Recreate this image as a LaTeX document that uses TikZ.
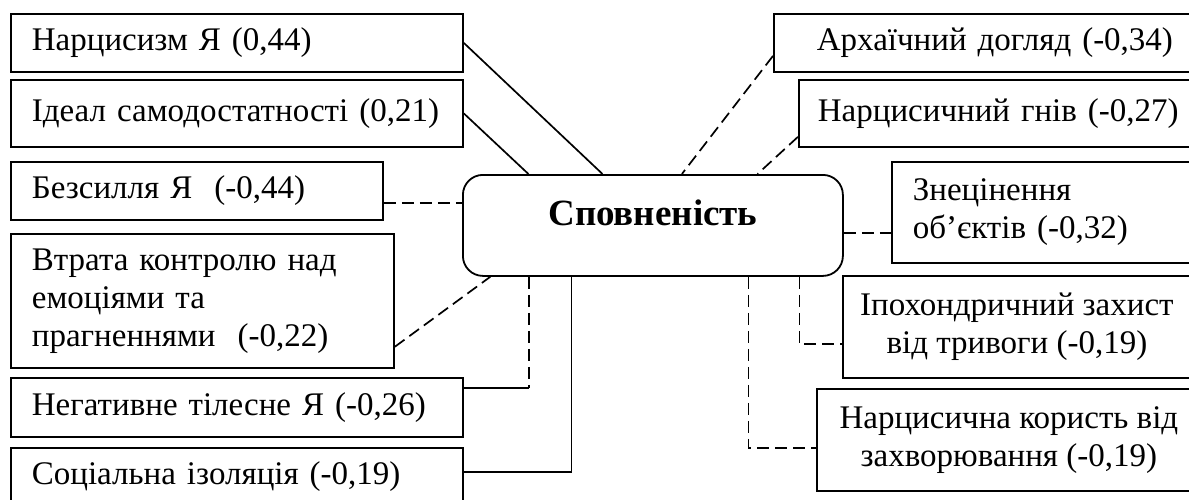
\documentclass[tikz,border=0pt]{standalone}
\usepackage{fontspec}
\setmainfont{Liberation Serif}
\usepackage{tikz}
\usetikzlibrary{calc}

\begin{document}
\begin{tikzpicture}[x=1pt, y=-1pt,
			box/.style={draw, line width=1.8pt, anchor=north west, inner sep=0pt,
				font=\fontsize{33}{38}\selectfont},
			link/.style={line width=1.7pt},
			dashline/.style={dash pattern=on 12pt off 6pt}]
			\useasboundingbox (0,0) rectangle (1189,499);
			\clip (0,0) rectangle (1189,499);
			\node[box, minimum width=452, minimum height=58, text width=410, align=left] (b1) at (10,13) {Нарцисизм Я (0,44)};
			\node[box, minimum width=452, minimum height=67, text width=410, align=left] (b2) at (10,79) {\mbox{Ідеал самодостатності (0,21)}};
			\node[box, minimum width=372, minimum height=58, text width=330, align=left] (b3) at (10,161) {Безсилля Я\ \ (-0,44)};
			\node[box, minimum width=383, minimum height=134, text width=341, align=left] (b4) at (10,233) {Втрата контролю над\\емоціями та\\прагненнями\ \ (-0,22)};
			\node[box, minimum width=452, minimum height=59, text width=410, align=left] (b5) at (10,377) {Негативне тілесне Я (-0,26)};
			\node[box, minimum width=452, minimum height=58, text width=410, align=left] (b6) at (10,447) {Соціальна ізоляція (-0,19)};
			\node[box, rounded corners=20pt, minimum width=380, minimum height=101, text height=26pt, text depth=26pt,
				font=\bfseries\fontsize{37}{44}\selectfont] (c) at (462,174) {Сповненість};
			\node[box, minimum width=448, minimum height=58, text width=362, align=left] (r1) at (773,13) {Архаїчний догляд (-0,34)};
			\node[box, minimum width=420, minimum height=67, text width=382, align=left] (r2) at (798,79) {Нарцисичний гнів (-0,27)};
			\node[box, minimum width=344, minimum height=101, text width=302, align=left] (r3) at (891,161) {Знецінення\\об’єктів (-0,32)};
			\node[box, minimum width=348, minimum height=102, align=center] (r4) at (842,275) {Іпохондричний захист\\від тривоги (-0,19)};
			\node[box, minimum width=384, minimum height=102, align=center] (r5) at (816,388) {Нарцисична користь від\\захворювання (-0,19)};
			\coordinate (t1) at ($(c.north west)!0.368!(c.north east)$);
			\coordinate (t2) at ($(c.north west)!0.174!(c.north east)$);
			\coordinate (t3) at ($(c.north west)!0.576!(c.north east)$);
			\coordinate (t4) at ($(c.north west)!0.774!(c.north east)$);
			\coordinate (s1) at ($(c.south west)!0.074!(c.south east)$);
			\coordinate (s2) at ($(c.south west)!0.176!(c.south east)$);
			\coordinate (s3) at ($(c.south west)!0.287!(c.south east)$);
			\coordinate (s4) at ($(c.south west)!0.75!(c.south east)$);
			\coordinate (s5) at ($(c.south west)!0.884!(c.south east)$);
			\draw[link] (b1.east) -- (t1);
			\draw[link] (b2.east) -- (t2);
			\draw[link, dashline] ([yshift=-12pt]b3.east) -- ([yshift=-12pt]b3.east -| c.west);
			\draw[link, dashline] ([yshift=22pt]b4.south east) -- (s1);
			\draw[link] ([yshift=-11pt]b5.north east) -- ([yshift=-11pt]b5.north east -| s2);
			\draw[link, dashline] (s2) -- ([yshift=-11pt]b5.north east -| s2);
			\draw[link] ([yshift=-25pt]b6.north east) -| (s3);
			\draw[link, dashline] ([yshift=-13pt]r1.west) -- (t3);
			\draw[link, dashline] ([yshift=11pt]r2.south west) -- (t4);
			\draw[link, dashline] ([yshift=-7.5pt]c.east) -- ([yshift=-7.5pt]c.east -| r3.west);
			\draw[link, dashline] (s5) |- ([yshift=-17pt]r4.west);
			\draw[link, dashline] (s4) |- ([yshift=-8pt]r5.west);
		\end{tikzpicture}
\end{document}
